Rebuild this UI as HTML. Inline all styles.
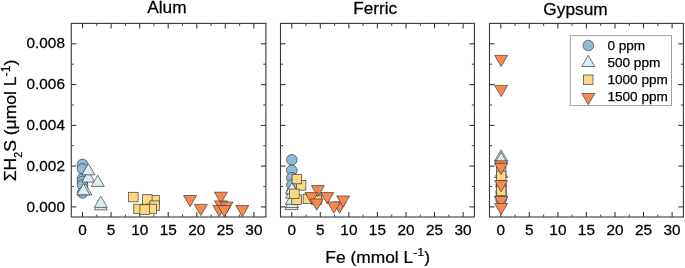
<!DOCTYPE html>
<html><head><meta charset="utf-8"><title>Chart</title>
<style>html,body{margin:0;padding:0;background:#fff}svg{display:block}</style></head>
<body>
<svg width="685" height="268" viewBox="0 0 685 268" font-family="Liberation Sans, sans-serif" fill="#000"><style>text{stroke:#000;stroke-width:0.25px}</style>
<rect width="685" height="268" fill="#fff"/>
<g stroke="#383838" stroke-width="1.1" fill="none">
<rect x="71.3" y="23.4" width="194.6" height="193.6"/>
<line x1="82.5" y1="217.0" x2="82.5" y2="212.0"/>
<line x1="82.5" y1="23.4" x2="82.5" y2="28.4"/>
<line x1="96.8" y1="217.0" x2="96.8" y2="214.4" stroke="#505050"/>
<line x1="96.8" y1="23.4" x2="96.8" y2="26.0" stroke="#505050"/>
<line x1="111.1" y1="217.0" x2="111.1" y2="212.0"/>
<line x1="111.1" y1="23.4" x2="111.1" y2="28.4"/>
<line x1="125.4" y1="217.0" x2="125.4" y2="214.4" stroke="#505050"/>
<line x1="125.4" y1="23.4" x2="125.4" y2="26.0" stroke="#505050"/>
<line x1="139.7" y1="217.0" x2="139.7" y2="212.0"/>
<line x1="139.7" y1="23.4" x2="139.7" y2="28.4"/>
<line x1="153.9" y1="217.0" x2="153.9" y2="214.4" stroke="#505050"/>
<line x1="153.9" y1="23.4" x2="153.9" y2="26.0" stroke="#505050"/>
<line x1="168.2" y1="217.0" x2="168.2" y2="212.0"/>
<line x1="168.2" y1="23.4" x2="168.2" y2="28.4"/>
<line x1="182.5" y1="217.0" x2="182.5" y2="214.4" stroke="#505050"/>
<line x1="182.5" y1="23.4" x2="182.5" y2="26.0" stroke="#505050"/>
<line x1="196.8" y1="217.0" x2="196.8" y2="212.0"/>
<line x1="196.8" y1="23.4" x2="196.8" y2="28.4"/>
<line x1="211.1" y1="217.0" x2="211.1" y2="214.4" stroke="#505050"/>
<line x1="211.1" y1="23.4" x2="211.1" y2="26.0" stroke="#505050"/>
<line x1="225.3" y1="217.0" x2="225.3" y2="212.0"/>
<line x1="225.3" y1="23.4" x2="225.3" y2="28.4"/>
<line x1="239.6" y1="217.0" x2="239.6" y2="214.4" stroke="#505050"/>
<line x1="239.6" y1="23.4" x2="239.6" y2="26.0" stroke="#505050"/>
<line x1="253.9" y1="217.0" x2="253.9" y2="212.0"/>
<line x1="253.9" y1="23.4" x2="253.9" y2="28.4"/>
<line x1="71.3" y1="206.9" x2="76.3" y2="206.9"/>
<line x1="265.9" y1="206.9" x2="260.9" y2="206.9"/>
<line x1="71.3" y1="186.5" x2="73.89999999999999" y2="186.5" stroke="#505050"/>
<line x1="265.9" y1="186.5" x2="263.29999999999995" y2="186.5" stroke="#505050"/>
<line x1="71.3" y1="166.1" x2="76.3" y2="166.1"/>
<line x1="265.9" y1="166.1" x2="260.9" y2="166.1"/>
<line x1="71.3" y1="145.7" x2="73.89999999999999" y2="145.7" stroke="#505050"/>
<line x1="265.9" y1="145.7" x2="263.29999999999995" y2="145.7" stroke="#505050"/>
<line x1="71.3" y1="125.4" x2="76.3" y2="125.4"/>
<line x1="265.9" y1="125.4" x2="260.9" y2="125.4"/>
<line x1="71.3" y1="105.0" x2="73.89999999999999" y2="105.0" stroke="#505050"/>
<line x1="265.9" y1="105.0" x2="263.29999999999995" y2="105.0" stroke="#505050"/>
<line x1="71.3" y1="84.6" x2="76.3" y2="84.6"/>
<line x1="265.9" y1="84.6" x2="260.9" y2="84.6"/>
<line x1="71.3" y1="64.2" x2="73.89999999999999" y2="64.2" stroke="#505050"/>
<line x1="265.9" y1="64.2" x2="263.29999999999995" y2="64.2" stroke="#505050"/>
<line x1="71.3" y1="43.8" x2="76.3" y2="43.8"/>
<line x1="265.9" y1="43.8" x2="260.9" y2="43.8"/>
</g>
<g font-size="14.2" text-anchor="middle">
<text transform="translate(82.5,234.6) scale(1.08,1)">0</text>
<text transform="translate(111.1,234.6) scale(1.08,1)">5</text>
<text transform="translate(139.7,234.6) scale(1.08,1)">10</text>
<text transform="translate(168.2,234.6) scale(1.08,1)">15</text>
<text transform="translate(196.8,234.6) scale(1.08,1)">20</text>
<text transform="translate(225.3,234.6) scale(1.08,1)">25</text>
<text transform="translate(253.9,234.6) scale(1.08,1)">30</text>
</g>
<text transform="translate(166.9,13.0) scale(1.01,1)" font-size="17.1" text-anchor="middle">Alum</text>
<g stroke="#383838" stroke-width="1.1" fill="none">
<rect x="280.5" y="23.4" width="193.9" height="193.6"/>
<line x1="291.8" y1="217.0" x2="291.8" y2="212.0"/>
<line x1="291.8" y1="23.4" x2="291.8" y2="28.4"/>
<line x1="306.0" y1="217.0" x2="306.0" y2="214.4" stroke="#505050"/>
<line x1="306.0" y1="23.4" x2="306.0" y2="26.0" stroke="#505050"/>
<line x1="320.3" y1="217.0" x2="320.3" y2="212.0"/>
<line x1="320.3" y1="23.4" x2="320.3" y2="28.4"/>
<line x1="334.6" y1="217.0" x2="334.6" y2="214.4" stroke="#505050"/>
<line x1="334.6" y1="23.4" x2="334.6" y2="26.0" stroke="#505050"/>
<line x1="348.9" y1="217.0" x2="348.9" y2="212.0"/>
<line x1="348.9" y1="23.4" x2="348.9" y2="28.4"/>
<line x1="363.1" y1="217.0" x2="363.1" y2="214.4" stroke="#505050"/>
<line x1="363.1" y1="23.4" x2="363.1" y2="26.0" stroke="#505050"/>
<line x1="377.4" y1="217.0" x2="377.4" y2="212.0"/>
<line x1="377.4" y1="23.4" x2="377.4" y2="28.4"/>
<line x1="391.7" y1="217.0" x2="391.7" y2="214.4" stroke="#505050"/>
<line x1="391.7" y1="23.4" x2="391.7" y2="26.0" stroke="#505050"/>
<line x1="406.0" y1="217.0" x2="406.0" y2="212.0"/>
<line x1="406.0" y1="23.4" x2="406.0" y2="28.4"/>
<line x1="420.3" y1="217.0" x2="420.3" y2="214.4" stroke="#505050"/>
<line x1="420.3" y1="23.4" x2="420.3" y2="26.0" stroke="#505050"/>
<line x1="434.5" y1="217.0" x2="434.5" y2="212.0"/>
<line x1="434.5" y1="23.4" x2="434.5" y2="28.4"/>
<line x1="448.8" y1="217.0" x2="448.8" y2="214.4" stroke="#505050"/>
<line x1="448.8" y1="23.4" x2="448.8" y2="26.0" stroke="#505050"/>
<line x1="463.1" y1="217.0" x2="463.1" y2="212.0"/>
<line x1="463.1" y1="23.4" x2="463.1" y2="28.4"/>
<line x1="280.5" y1="206.9" x2="285.5" y2="206.9"/>
<line x1="474.4" y1="206.9" x2="469.4" y2="206.9"/>
<line x1="280.5" y1="186.5" x2="283.1" y2="186.5" stroke="#505050"/>
<line x1="474.4" y1="186.5" x2="471.79999999999995" y2="186.5" stroke="#505050"/>
<line x1="280.5" y1="166.1" x2="285.5" y2="166.1"/>
<line x1="474.4" y1="166.1" x2="469.4" y2="166.1"/>
<line x1="280.5" y1="145.7" x2="283.1" y2="145.7" stroke="#505050"/>
<line x1="474.4" y1="145.7" x2="471.79999999999995" y2="145.7" stroke="#505050"/>
<line x1="280.5" y1="125.4" x2="285.5" y2="125.4"/>
<line x1="474.4" y1="125.4" x2="469.4" y2="125.4"/>
<line x1="280.5" y1="105.0" x2="283.1" y2="105.0" stroke="#505050"/>
<line x1="474.4" y1="105.0" x2="471.79999999999995" y2="105.0" stroke="#505050"/>
<line x1="280.5" y1="84.6" x2="285.5" y2="84.6"/>
<line x1="474.4" y1="84.6" x2="469.4" y2="84.6"/>
<line x1="280.5" y1="64.2" x2="283.1" y2="64.2" stroke="#505050"/>
<line x1="474.4" y1="64.2" x2="471.79999999999995" y2="64.2" stroke="#505050"/>
<line x1="280.5" y1="43.8" x2="285.5" y2="43.8"/>
<line x1="474.4" y1="43.8" x2="469.4" y2="43.8"/>
</g>
<g font-size="14.2" text-anchor="middle">
<text transform="translate(291.8,234.6) scale(1.08,1)">0</text>
<text transform="translate(320.3,234.6) scale(1.08,1)">5</text>
<text transform="translate(348.9,234.6) scale(1.08,1)">10</text>
<text transform="translate(377.4,234.6) scale(1.08,1)">15</text>
<text transform="translate(406.0,234.6) scale(1.08,1)">20</text>
<text transform="translate(434.5,234.6) scale(1.08,1)">25</text>
<text transform="translate(463.1,234.6) scale(1.08,1)">30</text>
</g>
<text transform="translate(375.2,14.3) scale(1.01,1)" font-size="17.1" text-anchor="middle">Ferric</text>
<g stroke="#383838" stroke-width="1.1" fill="none">
<rect x="489.5" y="23.4" width="193.9" height="193.6"/>
<line x1="500.8" y1="217.0" x2="500.8" y2="212.0"/>
<line x1="500.8" y1="23.4" x2="500.8" y2="28.4"/>
<line x1="515.0" y1="217.0" x2="515.0" y2="214.4" stroke="#505050"/>
<line x1="515.0" y1="23.4" x2="515.0" y2="26.0" stroke="#505050"/>
<line x1="529.3" y1="217.0" x2="529.3" y2="212.0"/>
<line x1="529.3" y1="23.4" x2="529.3" y2="28.4"/>
<line x1="543.6" y1="217.0" x2="543.6" y2="214.4" stroke="#505050"/>
<line x1="543.6" y1="23.4" x2="543.6" y2="26.0" stroke="#505050"/>
<line x1="557.9" y1="217.0" x2="557.9" y2="212.0"/>
<line x1="557.9" y1="23.4" x2="557.9" y2="28.4"/>
<line x1="572.1" y1="217.0" x2="572.1" y2="214.4" stroke="#505050"/>
<line x1="572.1" y1="23.4" x2="572.1" y2="26.0" stroke="#505050"/>
<line x1="586.4" y1="217.0" x2="586.4" y2="212.0"/>
<line x1="586.4" y1="23.4" x2="586.4" y2="28.4"/>
<line x1="600.7" y1="217.0" x2="600.7" y2="214.4" stroke="#505050"/>
<line x1="600.7" y1="23.4" x2="600.7" y2="26.0" stroke="#505050"/>
<line x1="615.0" y1="217.0" x2="615.0" y2="212.0"/>
<line x1="615.0" y1="23.4" x2="615.0" y2="28.4"/>
<line x1="629.3" y1="217.0" x2="629.3" y2="214.4" stroke="#505050"/>
<line x1="629.3" y1="23.4" x2="629.3" y2="26.0" stroke="#505050"/>
<line x1="643.5" y1="217.0" x2="643.5" y2="212.0"/>
<line x1="643.5" y1="23.4" x2="643.5" y2="28.4"/>
<line x1="657.8" y1="217.0" x2="657.8" y2="214.4" stroke="#505050"/>
<line x1="657.8" y1="23.4" x2="657.8" y2="26.0" stroke="#505050"/>
<line x1="672.1" y1="217.0" x2="672.1" y2="212.0"/>
<line x1="672.1" y1="23.4" x2="672.1" y2="28.4"/>
<line x1="489.5" y1="206.9" x2="494.5" y2="206.9"/>
<line x1="683.4" y1="206.9" x2="678.4" y2="206.9"/>
<line x1="489.5" y1="186.5" x2="492.1" y2="186.5" stroke="#505050"/>
<line x1="683.4" y1="186.5" x2="680.8" y2="186.5" stroke="#505050"/>
<line x1="489.5" y1="166.1" x2="494.5" y2="166.1"/>
<line x1="683.4" y1="166.1" x2="678.4" y2="166.1"/>
<line x1="489.5" y1="145.7" x2="492.1" y2="145.7" stroke="#505050"/>
<line x1="683.4" y1="145.7" x2="680.8" y2="145.7" stroke="#505050"/>
<line x1="489.5" y1="125.4" x2="494.5" y2="125.4"/>
<line x1="683.4" y1="125.4" x2="678.4" y2="125.4"/>
<line x1="489.5" y1="105.0" x2="492.1" y2="105.0" stroke="#505050"/>
<line x1="683.4" y1="105.0" x2="680.8" y2="105.0" stroke="#505050"/>
<line x1="489.5" y1="84.6" x2="494.5" y2="84.6"/>
<line x1="683.4" y1="84.6" x2="678.4" y2="84.6"/>
<line x1="489.5" y1="64.2" x2="492.1" y2="64.2" stroke="#505050"/>
<line x1="683.4" y1="64.2" x2="680.8" y2="64.2" stroke="#505050"/>
<line x1="489.5" y1="43.8" x2="494.5" y2="43.8"/>
<line x1="683.4" y1="43.8" x2="678.4" y2="43.8"/>
</g>
<g font-size="14.2" text-anchor="middle">
<text transform="translate(500.8,234.6) scale(1.08,1)">0</text>
<text transform="translate(529.3,234.6) scale(1.08,1)">5</text>
<text transform="translate(557.9,234.6) scale(1.08,1)">10</text>
<text transform="translate(586.4,234.6) scale(1.08,1)">15</text>
<text transform="translate(615.0,234.6) scale(1.08,1)">20</text>
<text transform="translate(643.5,234.6) scale(1.08,1)">25</text>
<text transform="translate(672.1,234.6) scale(1.08,1)">30</text>
</g>
<text transform="translate(575.5,14.5) scale(1.01,1)" font-size="17.1" text-anchor="middle">Gypsum</text>
<g font-size="14.2" text-anchor="end">
<text transform="translate(64.9,211.5) scale(1.08,1)">0.000</text>
<text transform="translate(64.9,170.7) scale(1.08,1)">0.002</text>
<text transform="translate(64.9,130.0) scale(1.08,1)">0.004</text>
<text transform="translate(64.9,89.2) scale(1.08,1)">0.006</text>
<text transform="translate(64.9,48.4) scale(1.08,1)">0.008</text>
</g>
<text transform="translate(377.7,262.6) scale(1,0.946)" font-size="17.4" text-anchor="middle">Fe (mmol L<tspan font-size="12.5" dy="-6.6">-1</tspan><tspan dy="6.6">)</tspan></text>
<text transform="translate(15.7,120.5) rotate(-90) scale(1.015,1)" font-size="17.3" text-anchor="middle">ΣH<tspan font-size="10.5" dy="6.3">2</tspan><tspan dy="-6.3">S (μmol L</tspan><tspan font-size="12" dy="-5.4">-1</tspan><tspan dy="5.4">)</tspan></text>
<circle cx="82.5" cy="164.4" r="5.3" fill="#8dbbd6" stroke="#3c3c3c" stroke-width="0.7"/>
<circle cx="82.5" cy="168.9" r="5.3" fill="#8dbbd6" stroke="#3c3c3c" stroke-width="0.7"/>
<circle cx="82.5" cy="178.7" r="5.3" fill="#8dbbd6" stroke="#3c3c3c" stroke-width="0.7"/>
<circle cx="82.5" cy="181.5" r="5.3" fill="#8dbbd6" stroke="#3c3c3c" stroke-width="0.7"/>
<circle cx="82.5" cy="185.0" r="5.3" fill="#8dbbd6" stroke="#3c3c3c" stroke-width="0.7"/>
<circle cx="82.5" cy="192.9" r="5.3" fill="#8dbbd6" stroke="#3c3c3c" stroke-width="0.7"/>
<polygon points="94.3,209.9 107.3,209.9 100.8,198.7" fill="#daeef4" stroke="#3c3c3c" stroke-width="0.7"/>
<polygon points="94.3,207.4 107.3,207.4 100.8,196.2" fill="#daeef4" stroke="#3c3c3c" stroke-width="0.7"/>
<polygon points="78.9,194.9 91.9,194.9 85.4,183.7" fill="#daeef4" stroke="#3c3c3c" stroke-width="0.7"/>
<polygon points="76.9,194.8 89.9,194.8 83.4,183.6" fill="#daeef4" stroke="#3c3c3c" stroke-width="0.7"/>
<polygon points="81.9,182.0 94.9,182.0 88.4,170.8" fill="#daeef4" stroke="#3c3c3c" stroke-width="0.7"/>
<polygon points="91.2,186.4 104.2,186.4 97.7,175.2" fill="#daeef4" stroke="#3c3c3c" stroke-width="0.7"/>
<polygon points="81.9,174.8 94.9,174.8 88.4,163.6" fill="#daeef4" stroke="#3c3c3c" stroke-width="0.7"/>
<rect x="128.6" y="192.3" width="9.5" height="9.5" fill="#fdd982" stroke="#3c3c3c" stroke-width="0.7"/>
<rect x="149.8" y="195.6" width="9.5" height="9.5" fill="#fdd982" stroke="#3c3c3c" stroke-width="0.7"/>
<rect x="142.6" y="194.7" width="9.5" height="9.5" fill="#fdd982" stroke="#3c3c3c" stroke-width="0.7"/>
<rect x="149.8" y="200.9" width="9.5" height="9.5" fill="#fdd982" stroke="#3c3c3c" stroke-width="0.7"/>
<rect x="133.8" y="204.2" width="9.5" height="9.5" fill="#fdd982" stroke="#3c3c3c" stroke-width="0.7"/>
<rect x="146.9" y="204.2" width="9.5" height="9.5" fill="#fdd982" stroke="#3c3c3c" stroke-width="0.7"/>
<rect x="139.9" y="204.8" width="9.5" height="9.5" fill="#fdd982" stroke="#3c3c3c" stroke-width="0.7"/>
<polygon points="183.6,195.5 196.6,195.5 190.1,206.7" fill="#f8894f" stroke="#3c3c3c" stroke-width="0.7"/>
<polygon points="194.3,204.4 207.3,204.4 200.8,215.6" fill="#f8894f" stroke="#3c3c3c" stroke-width="0.7"/>
<polygon points="214.4,192.2 227.4,192.2 220.9,203.4" fill="#f8894f" stroke="#3c3c3c" stroke-width="0.7"/>
<polygon points="214.5,200.9 227.5,200.9 221.0,212.1" fill="#f8894f" stroke="#3c3c3c" stroke-width="0.7"/>
<polygon points="220.0,202.0 233.0,202.0 226.5,213.2" fill="#f8894f" stroke="#3c3c3c" stroke-width="0.7"/>
<polygon points="212.8,205.4 225.8,205.4 219.3,216.6" fill="#f8894f" stroke="#3c3c3c" stroke-width="0.7"/>
<polygon points="217.7,205.6 230.7,205.6 224.2,216.8" fill="#f8894f" stroke="#3c3c3c" stroke-width="0.7"/>
<polygon points="235.8,205.6 248.8,205.6 242.3,216.8" fill="#f8894f" stroke="#3c3c3c" stroke-width="0.7"/>
<circle cx="291.8" cy="159.8" r="5.3" fill="#8dbbd6" stroke="#3c3c3c" stroke-width="0.7"/>
<circle cx="291.8" cy="170.3" r="5.3" fill="#8dbbd6" stroke="#3c3c3c" stroke-width="0.7"/>
<circle cx="291.8" cy="177.8" r="5.3" fill="#8dbbd6" stroke="#3c3c3c" stroke-width="0.7"/>
<circle cx="291.8" cy="185.0" r="5.3" fill="#8dbbd6" stroke="#3c3c3c" stroke-width="0.7"/>
<circle cx="291.8" cy="192.0" r="5.3" fill="#8dbbd6" stroke="#3c3c3c" stroke-width="0.7"/>
<polygon points="285.0,209.6 298.0,209.6 291.5,198.4" fill="#daeef4" stroke="#3c3c3c" stroke-width="0.7"/>
<polygon points="285.6,207.5 298.6,207.5 292.1,196.3" fill="#daeef4" stroke="#3c3c3c" stroke-width="0.7"/>
<polygon points="285.4,204.3 298.4,204.3 291.9,193.1" fill="#daeef4" stroke="#3c3c3c" stroke-width="0.7"/>
<polygon points="285.4,198.2 298.4,198.2 291.9,187.0" fill="#daeef4" stroke="#3c3c3c" stroke-width="0.7"/>
<polygon points="285.4,193.8 298.4,193.8 291.9,182.6" fill="#daeef4" stroke="#3c3c3c" stroke-width="0.7"/>
<rect x="296.4" y="180.6" width="9.5" height="9.5" fill="#fdd982" stroke="#3c3c3c" stroke-width="0.7"/>
<rect x="292.1" y="174.3" width="9.5" height="9.5" fill="#fdd982" stroke="#3c3c3c" stroke-width="0.7"/>
<rect x="291.8" y="194.9" width="9.5" height="9.5" fill="#fdd982" stroke="#3c3c3c" stroke-width="0.7"/>
<rect x="289.6" y="189.1" width="9.5" height="9.5" fill="#fdd982" stroke="#3c3c3c" stroke-width="0.7"/>
<rect x="303.1" y="194.2" width="9.5" height="9.5" fill="#fdd982" stroke="#3c3c3c" stroke-width="0.7"/>
<rect x="312.4" y="193.2" width="9.5" height="9.5" fill="#fdd982" stroke="#3c3c3c" stroke-width="0.7"/>
<rect x="311.8" y="195.2" width="9.5" height="9.5" fill="#fdd982" stroke="#3c3c3c" stroke-width="0.7"/>
<polygon points="311.4,185.6 324.4,185.6 317.9,196.8" fill="#f8894f" stroke="#3c3c3c" stroke-width="0.7"/>
<polygon points="304.9,192.6 317.9,192.6 311.4,203.8" fill="#f8894f" stroke="#3c3c3c" stroke-width="0.7"/>
<polygon points="320.8,192.6 333.8,192.6 327.3,203.8" fill="#f8894f" stroke="#3c3c3c" stroke-width="0.7"/>
<polygon points="310.3,199.0 323.3,199.0 316.8,210.2" fill="#f8894f" stroke="#3c3c3c" stroke-width="0.7"/>
<polygon points="333.0,202.0 346.0,202.0 339.5,213.2" fill="#f8894f" stroke="#3c3c3c" stroke-width="0.7"/>
<polygon points="327.4,202.0 340.4,202.0 333.9,213.2" fill="#f8894f" stroke="#3c3c3c" stroke-width="0.7"/>
<polygon points="336.7,195.9 349.7,195.9 343.2,207.1" fill="#f8894f" stroke="#3c3c3c" stroke-width="0.7"/>
<circle cx="501.1" cy="186.0" r="5.3" fill="#8dbbd6" stroke="#3c3c3c" stroke-width="0.7"/>
<circle cx="501.1" cy="192.0" r="5.3" fill="#8dbbd6" stroke="#3c3c3c" stroke-width="0.7"/>
<circle cx="501.1" cy="197.0" r="5.3" fill="#8dbbd6" stroke="#3c3c3c" stroke-width="0.7"/>
<circle cx="501.1" cy="200.0" r="5.3" fill="#8dbbd6" stroke="#3c3c3c" stroke-width="0.7"/>
<polygon points="494.6,161.0 507.6,161.0 501.1,149.8" fill="#daeef4" stroke="#3c3c3c" stroke-width="0.7"/>
<polygon points="494.6,163.6 507.6,163.6 501.1,152.4" fill="#daeef4" stroke="#3c3c3c" stroke-width="0.7"/>
<polygon points="494.6,177.6 507.6,177.6 501.1,166.4" fill="#daeef4" stroke="#3c3c3c" stroke-width="0.7"/>
<polygon points="494.6,197.6 507.6,197.6 501.1,186.4" fill="#daeef4" stroke="#3c3c3c" stroke-width="0.7"/>
<rect x="496.4" y="167.2" width="9.5" height="9.5" fill="#fdd982" stroke="#3c3c3c" stroke-width="0.7"/>
<rect x="496.4" y="171.1" width="9.5" height="9.5" fill="#fdd982" stroke="#3c3c3c" stroke-width="0.7"/>
<rect x="496.4" y="180.8" width="9.5" height="9.5" fill="#fdd982" stroke="#3c3c3c" stroke-width="0.7"/>
<rect x="496.4" y="185.9" width="9.5" height="9.5" fill="#fdd982" stroke="#3c3c3c" stroke-width="0.7"/>
<polygon points="494.6,55.4 507.6,55.4 501.1,66.6" fill="#f8894f" stroke="#3c3c3c" stroke-width="0.7"/>
<polygon points="494.6,85.4 507.6,85.4 501.1,96.6" fill="#f8894f" stroke="#3c3c3c" stroke-width="0.7"/>
<polygon points="494.6,160.8 507.6,160.8 501.1,172.0" fill="#f8894f" stroke="#3c3c3c" stroke-width="0.7"/>
<polygon points="494.6,163.3 507.6,163.3 501.1,174.5" fill="#f8894f" stroke="#3c3c3c" stroke-width="0.7"/>
<polygon points="494.6,180.6 507.6,180.6 501.1,191.8" fill="#f8894f" stroke="#3c3c3c" stroke-width="0.7"/>
<polygon points="494.6,196.5 507.6,196.5 501.1,207.7" fill="#f8894f" stroke="#3c3c3c" stroke-width="0.7"/>
<polygon points="494.6,203.5 507.6,203.5 501.1,214.7" fill="#f8894f" stroke="#3c3c3c" stroke-width="0.7"/>
<rect x="570.3" y="35.6" width="101.2" height="70" fill="#fff" stroke="#a0a0a0" stroke-width="1"/>
<circle cx="588.3" cy="45.5" r="5.3" fill="#8dbbd6" stroke="#3c3c3c" stroke-width="0.7"/>
<text x="607.4" y="49.8" font-size="13.6">0 ppm</text>
<polygon points="581.8,66.5 594.8,66.5 588.3,55.3" fill="#daeef4" stroke="#3c3c3c" stroke-width="0.7"/>
<text x="607.4" y="67.1" font-size="13.6">500 ppm</text>
<rect x="583.5" y="75.0" width="9.5" height="9.5" fill="#fdd982" stroke="#3c3c3c" stroke-width="0.7"/>
<text x="607.4" y="84.1" font-size="13.6">1000 ppm</text>
<polygon points="581.8,93.5 594.8,93.5 588.3,104.7" fill="#f8894f" stroke="#3c3c3c" stroke-width="0.7"/>
<text x="607.4" y="100.9" font-size="13.6">1500 ppm</text>
</svg>
</body></html>
